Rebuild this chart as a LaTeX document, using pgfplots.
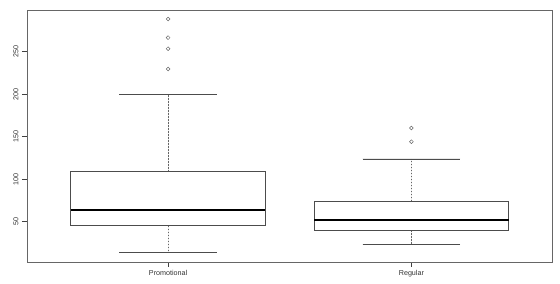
\documentclass[border=0pt]{standalone}
\usepackage{fontspec}
\setmainfont{Liberation Sans}
\usepackage{pgfplots}
\pgfplotsset{compat=1.18}
\usepgfplotslibrary{statistics}
\begin{document}
\begin{tikzpicture}
\begin{axis}[
  scale only axis, width=525.5bp, height=252bp,
  xmin=0.42, xmax=2.58, ymin=2.6, ymax=299,
  xtick={1,2}, xticklabels={Promotional,Regular},
  ytick={50,100,150,200,250},
  yticklabel style={rotate=90, anchor=south},
  tick align=outside, major tick length=5bp,
  tick style={black!75, line width=0.5pt},
  xtick pos=bottom, ytick pos=left,
  axis line style={line width=0.6pt, black!60},
  tick label style={font=\fontsize{7.2}{8}\selectfont, black!80},
  /pgf/number format/assume math mode=true,
  boxplot/draw direction=y,
  boxplot/box extend=0.8,
  boxplot/whisker extend=0.4,
  boxplot/draw/lower whisker/.code={%
    \draw[dashed, black!60, line width=0.5pt, dash pattern=on 1.5bp off 1.5bp]
      (boxplot box cs:\pgfplotsboxplotvalue{lower quartile},0.5) --
      (boxplot box cs:\pgfplotsboxplotvalue{lower whisker},0.5);
    \draw[black!70, line width=0.6pt]
      (boxplot whisker cs:\pgfplotsboxplotvalue{lower whisker},0) --
      (boxplot whisker cs:\pgfplotsboxplotvalue{lower whisker},1);
  },
  boxplot/draw/upper whisker/.code={%
    \draw[dashed, black!60, line width=0.5pt, dash pattern=on 1.5bp off 1.5bp]
      (boxplot box cs:\pgfplotsboxplotvalue{upper quartile},0.5) --
      (boxplot box cs:\pgfplotsboxplotvalue{upper whisker},0.5);
    \draw[black!70, line width=0.6pt]
      (boxplot whisker cs:\pgfplotsboxplotvalue{upper whisker},0) --
      (boxplot whisker cs:\pgfplotsboxplotvalue{upper whisker},1);
  },
  boxplot/draw/median/.code={%
    \draw[black, line width=1.7pt]
      (boxplot box cs:\pgfplotsboxplotvalue{median},0) --
      (boxplot box cs:\pgfplotsboxplotvalue{median},1);
  },
]
\addplot+[black!70, line width=0.6pt, solid, fill=white,
  mark=o, mark size=1.9bp, mark options={black!60, line width=0.5pt},
  boxplot prepared={draw position=1,
    lower whisker=14, lower quartile=45.3, median=63.8,
    upper quartile=108.8, upper whisker=200}]
  table[row sep=\\, y index=0] {288.4\\266.5\\253.5\\229.6\\};
\addplot+[black!70, line width=0.6pt, solid, fill=white,
  mark=o, mark size=1.9bp, mark options={black!60, line width=0.5pt},
  boxplot prepared={draw position=2,
    lower whisker=23, lower quartile=39.9, median=51.6,
    upper quartile=74, upper whisker=123.8}]
  table[row sep=\\, y index=0] {160.2\\144.1\\};
\end{axis}
\pgfresetboundingbox
\path ([shift={(-27bp,-22bp)}]current axis.south west) rectangle ++(560bp,284bp);
\end{tikzpicture}
\end{document}
